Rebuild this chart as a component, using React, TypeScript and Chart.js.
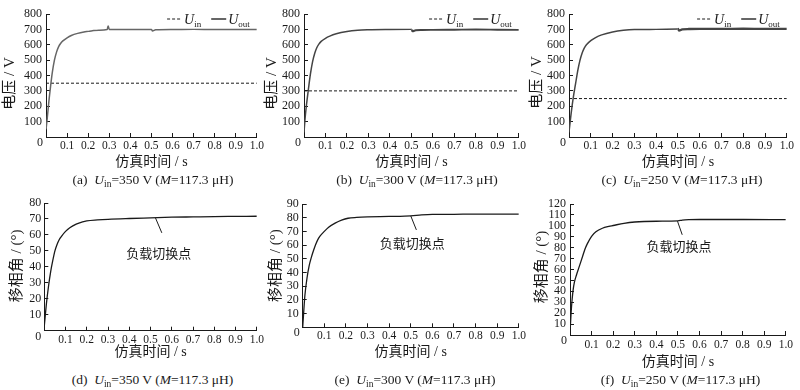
import React, { useEffect, useRef } from "react";
import { Chart, registerables } from "chart.js";

Chart.register(...registerables);

// ---------------- data ----------------
const uinTime = [0, 1.0];
const uinA = [350, 350];
const uinB = [300, 300];
const uinC = [250, 250];

const timeA = [0, 0.005, 0.01, 0.015, 0.02, 0.03, 0.04, 0.05, 0.06, 0.07, 0.08, 0.1, 0.12, 0.15, 0.18, 0.2, 0.22, 0.25, 0.29, 0.295, 0.3, 0.4, 0.5, 0.505, 0.52, 0.6, 0.7, 0.8, 0.9, 1.0];
const uoutA = [50, 110, 180, 250, 310, 420, 500, 552, 588, 610, 625, 645, 660, 674, 683, 687, 691, 695, 699, 722, 700, 700, 700, 690, 697, 699, 700, 700, 700, 700];

const timeB = [0, 0.005, 0.01, 0.015, 0.02, 0.03, 0.04, 0.05, 0.06, 0.07, 0.08, 0.1, 0.12, 0.15, 0.2, 0.25, 0.3, 0.4, 0.5, 0.505, 0.52, 0.55, 0.6, 0.7, 0.8, 0.9, 1.0];
const uoutB = [30, 120, 190, 250, 305, 410, 490, 545, 582, 606, 622, 642, 656, 671, 686, 694, 697, 699, 700, 688, 694, 696, 697, 698, 699, 698, 697];

const timeC = [0, 0.005, 0.01, 0.015, 0.02, 0.03, 0.04, 0.05, 0.06, 0.07, 0.08, 0.1, 0.12, 0.15, 0.2, 0.25, 0.3, 0.4, 0.5, 0.505, 0.52, 0.55, 0.6, 0.7, 0.8, 0.9, 1.0];
const uoutC = [30, 95, 155, 210, 260, 345, 430, 497, 545, 578, 600, 627, 645, 664, 683, 694, 699, 700, 702, 692, 700, 702, 703, 703, 704, 703, 703];

const timeD = [0, 0.005, 0.01, 0.02, 0.03, 0.04, 0.05, 0.06, 0.07, 0.08, 0.1, 0.12, 0.15, 0.18, 0.2, 0.25, 0.3, 0.4, 0.5, 0.6, 0.7, 0.8, 0.9, 1.0];
const phiD = [3, 10, 17, 28, 37, 44, 50, 54, 57, 59, 62.2, 64.5, 66.8, 68.2, 68.8, 69.4, 69.8, 70.3, 70.7, 71.1, 71.3, 71.5, 71.6, 71.7];

const timeE = [0, 0.005, 0.01, 0.02, 0.03, 0.04, 0.05, 0.06, 0.07, 0.08, 0.1, 0.12, 0.15, 0.18, 0.21, 0.25, 0.3, 0.4, 0.45, 0.5, 0.55, 0.6, 0.7, 0.8, 1.0];
const phiE = [0, 12, 23, 36, 45, 51, 56, 60.4, 64, 66.5, 70, 73, 76, 78.2, 79.6, 80.2, 80.6, 81, 81, 81.3, 82, 82.4, 82.5, 82.6, 82.6];

const timeF = [0, 0.005, 0.01, 0.015, 0.02, 0.03, 0.04, 0.05, 0.06, 0.07, 0.08, 0.1, 0.12, 0.15, 0.18, 0.2, 0.25, 0.3, 0.4, 0.5, 0.52, 0.55, 0.6, 0.8, 1.0];
const phiF = [2, 20, 33, 42, 48, 55, 61, 67, 73, 79, 83.5, 90.4, 94.5, 97.8, 99.5, 100.3, 102.3, 103.5, 104.2, 104.5, 105.3, 105.7, 105.8, 105.8, 105.7];

const xTitle = "仿真时间 / s";
const yTitleU = "电压 / V";
const yTitlePhi = "移相角 / (°)";
const annText = "负载切换点";
const mutualL = "117.3";

// ---------------- layout ----------------
type Panel = {
  id: string;
  kind: "u" | "phi";
  t: number[];
  v: number[];
  uin: number[];
  yMax: number;
  yStep: number;
  left: number; top: number; w: number; h: number;
  yW: number; xH: number; padTop: number; padRight: number;
  xPad: number; yPad: number;
  titleDx: number; titleDy: number;
  color: string; tailW: number;
  ann?: { from: number[]; to: number[]; text: number[] };
  capX: number; capY: number;
};

const PANELS: Panel[] = [
  { id: "a", kind: "u", t: timeA, v: uoutA, uin: uinA, yMax: 800, yStep: 100,
    left: 0, top: 0, w: 270, h: 172, yW: 46, xH: 35, padTop: 7.3, padRight: 11, xPad: 6, yPad: 8,
    titleDx: 36, titleDy: 8, color: "#666", tailW: 1.5, capX: 153, capY: 180 },
  { id: "b", kind: "u", t: timeB, v: uoutB, uin: uinB, yMax: 800, yStep: 100,
    left: 262, top: 0, w: 270, h: 172, yW: 42, xH: 35, padTop: 7.3, padRight: 8, xPad: 6, yPad: 8,
    titleDx: 32, titleDy: 8, color: "#444", tailW: 1.9, capX: 417, capY: 180 },
  { id: "c", kind: "u", t: timeC, v: uoutC, uin: uinC, yMax: 800, yStep: 100,
    left: 527, top: 0, w: 273, h: 172, yW: 42, xH: 35, padTop: 7.3, padRight: 9, xPad: 6, yPad: 8,
    titleDx: 32, titleDy: 7, color: "#444", tailW: 2.4, capX: 682, capY: 180 },
  { id: "d", kind: "phi", t: timeD, v: phiD, uin: uinA, yMax: 80, yStep: 10,
    left: 0, top: 190, w: 270, h: 172, yW: 44.3, xH: 31.3, padTop: 11, padRight: 11, xPad: 6, yPad: 7,
    titleDx: 27, titleDy: -1, color: "#1a1a1a", tailW: 1.3,
    ann: { from: [0.523, 70.7], to: [0.553, 61.3], text: [0.538, 48.9] }, capX: 152.5, capY: 380 },
  { id: "e", kind: "phi", t: timeE, v: phiE, uin: uinB, yMax: 90, yStep: 10,
    left: 262, top: 190, w: 270, h: 172, yW: 40.7, xH: 34.7, padTop: 10, padRight: 8, xPad: 6, yPad: 8,
    titleDx: 27, titleDy: 0, color: "#1a1a1a", tailW: 1.3,
    ann: { from: [0.5, 81.3], to: [0.526, 71.1], text: [0.507, 61.7] }, capX: 415, capY: 380 },
  { id: "f", kind: "phi", t: timeF, v: phiF, uin: uinC, yMax: 120, yStep: 10,
    left: 527, top: 190, w: 273, h: 182, yW: 43, xH: 37, padTop: 10, padRight: 9, xPad: 7, yPad: 8,
    titleDx: 28, titleDy: -2.5, color: "#1a1a1a", tailW: 1.3,
    ann: { from: [0.498, 104.3], to: [0.52, 91.8], text: [0.505, 81.5] }, capX: 680.5, capY: 380 },
];

const INK = "#1a1a1a";
const SERIF = "'Liberation Serif', 'Noto Sans CJK SC', serif";

const pts = (xs: number[], ys: number[]) => xs.map((x, i) => ({ x, y: ys[i] }));

function decor(p: Panel) {
  return {
    id: "decor" + p.id,
    afterDraw(chart: any) {
      const { ctx, chartArea, scales } = chart;
      const xs = scales.x;
      const ys = scales.y;
      ctx.save();
      ctx.fillStyle = INK;
      // y title
      ctx.save();
      ctx.translate(chartArea.left - p.titleDx, (chartArea.top + chartArea.bottom) / 2 + p.titleDy);
      ctx.rotate(-Math.PI / 2);
      ctx.font = `15px ${SERIF}`;
      ctx.textAlign = "center";
      ctx.textBaseline = "middle";
      ctx.fillText(p.kind === "u" ? yTitleU : yTitlePhi, 0, 0);
      ctx.restore();
      // corner zero label
      ctx.font = `12px ${SERIF}`;
      ctx.textAlign = "center";
      ctx.textBaseline = "middle";
      ctx.fillText("0", chartArea.left - 6, ys.getPixelForValue(0) + 6);

      if (p.kind === "u") {
        // legend
        const uFont = "italic 14px 'Liberation Serif', serif";
        const sFont = "9px 'Liberation Serif', serif";
        ctx.font = uFont;
        const wU = ctx.measureText("U").width;
        ctx.font = sFont;
        const wIn = ctx.measureText("in").width;
        const wOut = ctx.measureText("out").width;
        const lineLen = 15, gap = 2, itemGap = 10;
        const total = lineLen + gap + wU + wIn + itemGap + lineLen + gap + wU + wOut;
        let x = chartArea.right - 7 - total;
        const y = chartArea.top + 5;
        ctx.strokeStyle = INK;
        ctx.lineWidth = 1;
        ctx.setLineDash([3, 2]);
        ctx.beginPath();
        ctx.moveTo(x, y);
        ctx.lineTo(x + lineLen, y);
        ctx.stroke();
        ctx.setLineDash([]);
        x += lineLen + gap;
        ctx.textAlign = "left";
        ctx.textBaseline = "alphabetic";
        ctx.font = uFont;
        ctx.fillText("U", x, y + 5);
        x += wU;
        ctx.font = sFont;
        ctx.fillText("in", x, y + 7.5);
        x += wIn + itemGap;
        ctx.strokeStyle = "#333";
        ctx.lineWidth = 1.5;
        ctx.beginPath();
        ctx.moveTo(x, y);
        ctx.lineTo(x + lineLen, y);
        ctx.stroke();
        x += lineLen + gap;
        ctx.font = uFont;
        ctx.fillText("U", x, y + 5);
        x += wU;
        ctx.font = sFont;
        ctx.fillText("out", x, y + 7.5);
      }

      if (p.ann) {
        const a = p.ann;
        ctx.strokeStyle = INK;
        ctx.lineWidth = 1;
        ctx.beginPath();
        ctx.moveTo(xs.getPixelForValue(a.from[0]), ys.getPixelForValue(a.from[1]));
        ctx.lineTo(xs.getPixelForValue(a.to[0]), ys.getPixelForValue(a.to[1]));
        ctx.stroke();
        ctx.font = "13px 'Noto Sans CJK SC', sans-serif";
        ctx.textAlign = "center";
        ctx.textBaseline = "middle";
        ctx.fillText(annText, xs.getPixelForValue(a.text[0]), ys.getPixelForValue(a.text[1]));
      }
      ctx.restore();
    },
  };
}

function makeConfig(p: Panel): any {
  const datasets: any[] =
    p.kind === "u"
      ? [
          {
            label: "Uout",
            data: pts(p.t, p.v),
            borderColor: p.color,
            borderWidth: 1.5,
            pointRadius: 0,
            cubicInterpolationMode: "monotone",
            segment: { borderWidth: (c: any) => (c.p0.parsed.x >= 0.5 ? p.tailW : 1.5) },
          },
          {
            label: "Uin",
            data: pts(uinTime, p.uin),
            borderColor: INK,
            borderWidth: 1,
            borderDash: [3, 2],
            pointRadius: 0,
          },
        ]
      : [
          {
            label: "phi",
            data: pts(p.t, p.v),
            borderColor: p.color,
            borderWidth: 1.3,
            pointRadius: 0,
            cubicInterpolationMode: "monotone",
          },
        ];

  const grid = {
    display: true,
    drawOnChartArea: false,
    drawTicks: true,
    tickLength: -4,
    color: INK,
    lineWidth: 1,
  };
  const border = { display: true, color: INK, width: 1 };

  return {
    type: "line",
    data: { datasets },
    options: {
      responsive: false,
      animation: false,
      events: [],
      layout: { padding: { left: 0, top: p.padTop, right: p.padRight, bottom: 0 } },
      plugins: { legend: { display: false }, tooltip: { enabled: false } },
      scales: {
        x: {
          type: "linear",
          min: 0,
          max: 1,
          ticks: {
            stepSize: 0.1,
            autoSkip: false,
            maxRotation: 0,
            color: INK,
            padding: p.xPad,
            font: { family: SERIF, size: 11.5 },
            callback: (v: number) => (Math.abs(v) < 1e-9 ? "" : v.toFixed(1)),
          },
          grid,
          border,
          title: {
            display: true,
            text: xTitle,
            color: INK,
            font: { family: SERIF, size: 14 },
            padding: { top: 0, bottom: 1 },
          },
          afterFit: (s: any) => {
            s.height = p.xH;
          },
        },
        y: {
          type: "linear",
          min: 0,
          max: p.yMax,
          ticks: {
            stepSize: p.yStep,
            autoSkip: false,
            color: INK,
            padding: p.yPad,
            font: { family: SERIF, size: 12, lineHeight: 1 },
            callback: (v: number) => (v === 0 ? "" : String(v)),
          },
          grid,
          border,
          afterFit: (s: any) => {
            s.width = p.yW;
          },
        },
      },
    },
    plugins: [decor(p)],
  };
}

export default function App() {
  const refs = useRef<(HTMLCanvasElement | null)[]>([]);

  useEffect(() => {
    const charts = PANELS.map((p, i) => new Chart(refs.current[i] as HTMLCanvasElement, makeConfig(p)));
    return () => charts.forEach((c) => c.destroy());
  }, []);

  return (
    <div style={{ position: "absolute", left: 0, top: 0, width: 800, height: 390, background: "#fff", overflow: "hidden" }}>
      {PANELS.map((p, i) => (
        <canvas
          key={p.id}
          ref={(el) => {
            refs.current[i] = el;
          }}
          width={p.w}
          height={p.h}
          style={{ position: "absolute", left: p.left, top: p.top, width: p.w, height: p.h }}
        />
      ))}
      {PANELS.map((p) => (
        <div
          key={"cap" + p.id}
          style={{
            position: "absolute",
            left: p.capX - 130,
            width: 260,
            top: p.capY - 10,
            height: 20,
            lineHeight: "20px",
            textAlign: "center",
            fontFamily: SERIF,
            fontSize: 13.5,
            color: INK,
            whiteSpace: "nowrap",
          }}
        >
          ({p.id})&nbsp;&nbsp;<i>U</i>
          <span style={{ fontSize: "0.7em", position: "relative", top: "0.3em" }}>in</span>={p.uin[0]} V (<i>M</i>={mutualL} μH)
        </div>
      ))}
    </div>
  );
}
